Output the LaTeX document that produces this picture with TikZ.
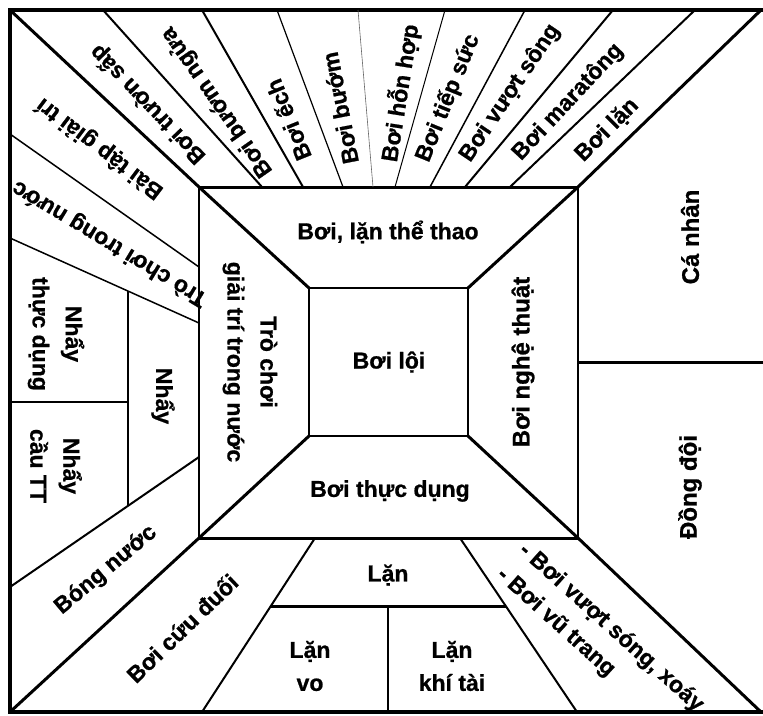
\documentclass[tikz,border=0pt]{standalone}
\usepackage{fontspec}
\setmainfont{Liberation Sans}[BoldFeatures={FakeBold=0.8}]
\begin{document}
\begin{tikzpicture}[x=1pt,y=-1pt,
  lbl/.style={font=\bfseries\fontsize{23}{33}\selectfont, align=center, inner sep=0pt},
  big/.style={lbl, font=\bfseries\fontsize{24}{33}\selectfont},
  frame/.style={line width=4.5pt, line join=miter},
  thick3/.style={line width=3pt},
  mid2/.style={line width=2pt},
  thin1/.style={line width=1.1pt},
  hair/.style={line width=0.6pt, draw=black!60}]
\useasboundingbox (0,0) rectangle (763,715);
% corner coordinates
\coordinate (OTL) at (10,10);
\coordinate (OTR) at (761,10);
\coordinate (OBL) at (10,712);
\coordinate (OBR) at (761,712);
\coordinate (MTL) at (199,187);
\coordinate (MTR) at (578,187);
\coordinate (MBL) at (199,538);
\coordinate (MBR) at (578,538);
\coordinate (ITL) at (309,288);
\coordinate (ITR) at (468,288);
\coordinate (IBL) at (309,436);
\coordinate (IBR) at (468,436);
% outer frame (right side lies at the picture edge)
\draw[frame] (763,10) -- (OTL) -- (OBL) -- (763,712);
% inner square and middle rectangle
\draw[thin1] (ITL) rectangle (IBR);
\draw[thin1] (MTL) -- (MBL) (MTR) -- (MBR);
\draw[thick3] (MTL) -- (MTR) (MBL) -- (MBR);
% diagonals
\draw[thick3] (OTL) -- (MTL) -- (ITL);
\draw[thick3] (OTR) -- (MTR) -- (ITR);
\draw[thick3] (OBL) -- (MBL) -- (IBL);
\draw[thick3] (OBR) -- (MBR) -- (IBR);
% top fan
\coordinate (f1a) at (103,10); \coordinate (f1b) at (262,187);
\coordinate (f2a) at (202,10); \coordinate (f2b) at (303,187);
\coordinate (f3a) at (277,10); \coordinate (f3b) at (343,187);
\coordinate (f4a) at (358,10); \coordinate (f4b) at (373,187);
\coordinate (f5a) at (445,10); \coordinate (f5b) at (395,187);
\coordinate (f6a) at (525,10); \coordinate (f6b) at (430,187);
\coordinate (f7a) at (613,10); \coordinate (f7b) at (465,187);
\coordinate (f8a) at (695,10); \coordinate (f8b) at (510,187);
\draw[mid2] (f1a) -- (f1b);
\draw[mid2] (f2a) -- (f2b);
\draw[line width=1.2pt] (f3a) -- (f3b);
\draw[hair] (f4a) -- (f4b);
\draw[line width=1pt] (f5a) -- (f5b);
\draw[line width=1.5pt] (f6a) -- (f6b);
\draw[mid2] (f7a) -- (f7b);
\draw[mid2] (f8a) -- (f8b);
% left region
\coordinate (A1) at (10,134); \coordinate (A2) at (199,267);
\coordinate (B1) at (10,238); \coordinate (B2) at (199,323);
\coordinate (C1) at (10,587); \coordinate (C2) at (199,457);
\coordinate (V1) at (128,291); \coordinate (V2) at (128,506);
\coordinate (H1) at (10,402); \coordinate (H2) at (128,402);
\draw[line width=1.5pt] (A1) -- (A2);
\draw[line width=1.5pt] (B1) -- (B2);
\draw[mid2] (C1) -- (C2);
\draw[line width=1.5pt] (V1) -- (V2);
\draw[mid2] (H1) -- (H2);
% bottom region
\coordinate (D1) at (315,538); \coordinate (D2) at (202,712);
\coordinate (E1) at (460,538); \coordinate (E2) at (577,712);
\coordinate (BH1) at (271,606); \coordinate (BH2) at (506,606);
\coordinate (BV1) at (388,606); \coordinate (BV2) at (388,712);
\draw[mid2] (D1) -- (D2);
\draw[mid2] (E1) -- (E2);
\draw[thick3] (BH1) -- (BH2);
\draw[line width=2.5pt] (BV1) -- (BV2);
% right region
\coordinate (R1) at (578,362); \coordinate (R2) at (763,362);
\draw[thick3] (R1) -- (R2);
% labels: centre
\node[lbl] (sport) at (388,232) {Bơi, lặn thể thao};
\node[lbl] (loi) at (389,362) {Bơi lội};
\node[lbl] (thucdung) at (390,491) {Bơi thực dụng};
\node[lbl, rotate=-90] (trochoi) at (250,362) {Trò chơi\\giải trí trong nước};
\node[big, rotate=90] (nghethuat) at (523,362) {Bơi nghệ thuật};
% right
\node[big, rotate=90] (canhan) at (690,237) {Cá nhân};
\node[big, rotate=90] (dongdoi) at (690,487) {Đồng đội};
% top fan labels
\node[lbl, rotate=134] (t1) at (148,104) {Bơi trườn sấp};
\node[lbl, rotate=125] (t2) at (217,102) {Bơi bướm ngửa};
\node[lbl, rotate=112] (t3) at (288,120) {Bơi ếch};
\node[lbl, rotate=101] (t4) at (340,108) {Bơi bướm};
\node[lbl, rotate=81] (t5) at (400,93) {Bơi hỗn hợp};
\node[lbl, rotate=68] (t6) at (448,98) {Bơi tiếp sức};
\node[lbl, rotate=56] (t7) at (510,93) {Bơi vượt sông};
\node[lbl, rotate=47] (t8) at (568,102) {Bơi maratông};
\node[lbl, rotate=45] (t9) at (607,130) {Bơi lặn};
% left labels
\node[lbl, rotate=143] (l1) at (100,148) {Bài tập giải trí};
\node[lbl, rotate=149] (l2) at (110,243) {Trò chơi trong nước};
\node[lbl, rotate=-90] (l3) at (56,334) {Nhẩy\\thực dụng};
\node[lbl, rotate=-90] (l4) at (56,466) {Nhẩy\\cầu TT};
\node[lbl, rotate=-90] (l5) at (163,396) {Nhẩy};
\node[lbl, rotate=40] (l6) at (106,570) {Bóng nước};
% bottom labels
\node[lbl, rotate=44] (b1) at (182,628) {Bơi cứu đuối};
\node[lbl] (b2) at (388,575) {Lặn};
\node[lbl] (b3) at (310,666) {Lặn\\vo};
\node[lbl] (b4) at (452,666) {Lặn\\khí tài};
\node[lbl, align=left, rotate=-42] (b5) at (600,640) {- Bơi vượt sóng, xoáy\\- Bơi vũ trang};
\end{tikzpicture}
\end{document}
